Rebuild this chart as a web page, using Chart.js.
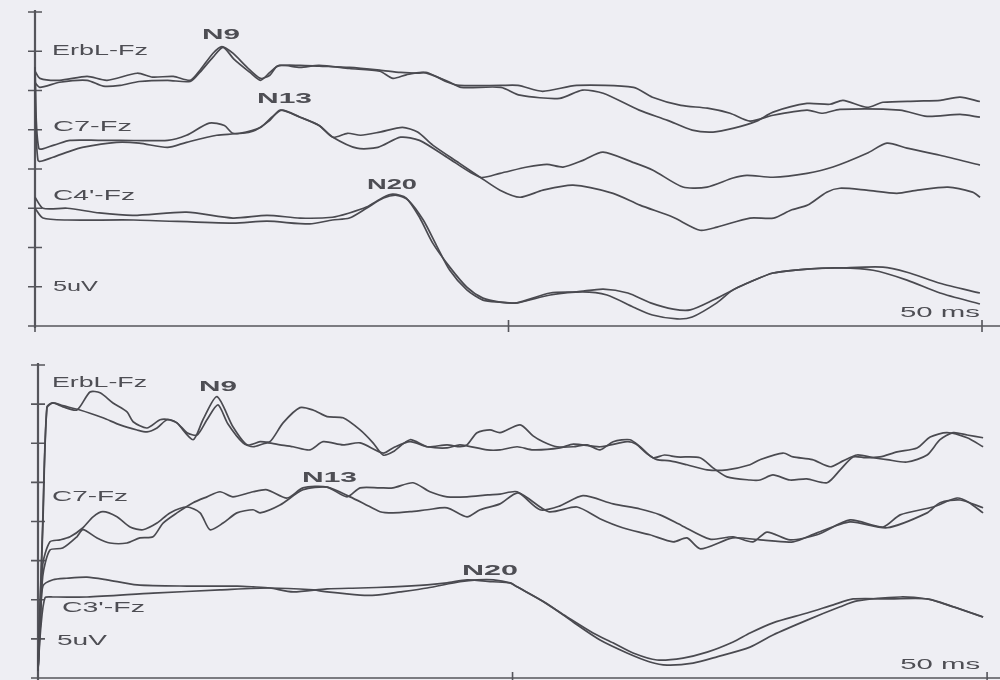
<!DOCTYPE html>
<html>
<head>
<meta charset="utf-8">
<title>Somatosensory evoked potentials</title>
<script src="https://cdn.jsdelivr.net/npm/chart.js@4/dist/chart.umd.min.js"></script>
<style>
  html, body { margin: 0; padding: 0; background: #eeeef3; }
  #sheet { position: relative; width: 1000px; height: 680px; overflow: hidden; background: #eeeef3; }
  #sheet canvas { position: absolute; left: 0; }
  #upper { top: 0; }
  #lower { top: 340px; }
</style>
</head>
<body>
<div id="sheet">
  <canvas id="upper" width="1000" height="340"></canvas>
  <canvas id="lower" width="1000" height="340"></canvas>
</div>
<script>
// ---- scale marks and texts ----
const timeTicksMs = [0, 25, 50];
const ampDivisions = [0, 1, 2, 3, 4, 5, 6, 7, 8];
const upperChannels = ['ErbL-Fz', 'C7-Fz', "C4'-Fz"];
const lowerChannels = ['ErbL-Fz', 'C7-Fz', "C3'-Fz"];
const peakNames = ['N9', 'N13', 'N20'];
const calibrationLabel = '5uV';
const sweepLabel = '50 ms';

// ---- traces: [time in ms, level in vertical divisions] ----
// upper block, two superimposed runs per derivation
const upperErbA = [[0,6.49],[0.26,6.31],[1.3,6.26],[2.75,6.36],[3.8,6.26],[5.4,6.44],[6.2,6.34],[7.3,6.36],[8.2,6.26],[8.7,6.51],[9.4,6.95],[9.87,7.12],[10.45,6.95],[11.2,6.59],[11.9,6.31],[12.4,6.39],[12.8,6.62],[14.0,6.64],[15.0,6.62],[16.6,6.59],[18.2,6.52],[19.3,6.46],[20.2,6.44],[20.7,6.46],[21.8,6.21],[22.4,6.13],[24.6,6.13],[25.5,6.13],[26.8,5.98],[28.6,6.13],[31.6,6.08],[32.6,5.83],[34.1,5.62],[35.5,5.55],[36.7,5.42],[37.75,5.22],[38.97,5.37],[40.76,5.50],[41.6,5.42],[42.5,5.52],[45.67,5.50],[47.1,5.34],[48.84,5.39],[49.89,5.32]];
const upperErbB = [[0,6.2],[0.26,6.08],[1.3,6.21],[2.75,6.26],[3.6,6.11],[4.5,6.13],[5.5,6.23],[7.0,6.26],[8.2,6.23],[8.7,6.46],[9.4,6.85],[9.93,7.10],[10.5,6.80],[11.35,6.46],[11.9,6.26],[12.4,6.46],[12.9,6.64],[14.0,6.59],[15.0,6.64],[16.6,6.56],[18.2,6.49],[18.9,6.31],[19.6,6.40],[20.5,6.46],[21.9,6.21],[22.5,6.08],[24.6,6.08],[25.6,5.88],[27.7,5.80],[28.9,6.01],[30.0,5.93],[31.9,5.50],[33.4,5.24],[34.7,4.99],[35.8,4.94],[36.9,5.04],[38.1,5.22],[38.97,5.45],[40.76,5.67],[41.97,5.65],[42.66,5.75],[43.93,5.57],[44.77,5.70],[46.57,5.73],[47.8,5.75],[48.84,5.83],[49.89,5.72]];
const upperC7A = [[0,6.6],[0.2,4.53],[1.0,4.61],[1.85,4.73],[3.4,4.73],[4.5,4.73],[7.0,4.73],[8.0,4.86],[9.2,5.17],[10.0,5.11],[10.45,4.91],[11.5,4.96],[12.4,5.24],[12.94,5.50],[14.0,5.32],[15.0,5.11],[15.73,4.81],[16.5,4.91],[17.2,4.86],[18.2,4.94],[19.4,5.06],[20.2,4.94],[21.0,4.61],[22.4,4.15],[23.5,3.79],[24.55,3.46],[25.61,3.28],[26.82,3.46],[28.41,3.59],[30.52,3.38],[31.94,3.08],[33.69,2.77],[35.11,2.44],[36.01,2.52],[37.75,2.75],[39.0,2.75],[39.9,2.95],[40.8,3.08],[41.8,3.41],[42.5,3.51],[43.9,3.46],[45.5,3.38],[46.6,3.46],[48.2,3.54],[49.5,3.41],[49.9,3.28]];
const upperC7B = [[0,6.4],[0.16,4.22],[0.95,4.30],[1.7,4.43],[2.5,4.55],[4.3,4.68],[5.5,4.66],[7.0,4.55],[8.0,4.68],[9.6,4.86],[10.8,4.91],[11.9,5.06],[12.5,5.32],[13.04,5.50],[14.0,5.32],[15.0,5.11],[15.73,4.81],[17.0,4.53],[18.1,4.55],[19.3,4.81],[20.3,4.73],[21.75,4.30],[23.5,3.79],[24.55,3.89],[25.98,4.05],[27.03,4.12],[27.88,4.05],[28.93,4.22],[29.99,4.43],[31.57,4.17],[32.63,3.97],[34.21,3.54],[35.48,3.54],[36.85,3.77],[37.59,3.84],[38.97,3.79],[40.76,3.89],[42.13,4.05],[43.93,4.40],[44.98,4.66],[46.04,4.53],[47.78,4.35],[49.89,4.10]];
const upperC4A = [[0,3.28],[0.42,3.0],[1.7,3.0],[3.4,2.88],[5.2,2.82],[8.0,2.90],[10.45,2.75],[12.25,2.82],[14.0,2.75],[15.7,2.77],[16.6,2.88],[17.5,3.03],[18.4,3.28],[18.9,3.36],[19.6,3.26],[20.3,2.77],[21.0,2.11],[21.9,1.50],[22.8,0.99],[23.65,0.71],[24.55,0.61],[25.45,0.59],[27.2,0.84],[28.6,0.87],[30.0,0.94],[31.3,0.84],[32.5,0.59],[33.7,0.43],[34.6,0.41],[35.8,0.66],[36.85,0.92],[37.75,1.12],[38.97,1.35],[40.76,1.45],[42.5,1.48],[44.25,1.42],[46.04,1.17],[47.78,0.84],[49.89,0.56]];
const upperC4B = [[0,3.0],[0.42,2.75],[1.7,2.70],[5.2,2.70],[10.45,2.62],[12.25,2.67],[14.5,2.60],[15.7,2.70],[16.6,2.75],[17.5,3.0],[18.4,3.26],[19.1,3.33],[19.7,3.21],[20.5,2.70],[21.2,2.05],[21.9,1.42],[22.8,0.92],[23.65,0.66],[24.55,0.61],[25.45,0.59],[27.2,0.79],[28.9,0.87],[30.2,0.79],[31.6,0.48],[32.6,0.28],[33.9,0.18],[34.7,0.23],[36.0,0.59],[36.85,0.92],[37.75,1.12],[38.97,1.35],[40.76,1.45],[42.5,1.48],[44.77,1.50],[46.04,1.37],[47.78,1.09],[49.89,0.84]];

// lower block
const lowerErbA = [[0,0.2],[0.25,4.0],[0.47,6.93],[0.79,7.03],[1.32,6.93],[2.05,6.85],[2.74,7.31],[3.27,7.29],[3.95,7.03],[4.69,6.80],[5.01,6.55],[5.74,6.39],[6.43,6.60],[6.95,6.60],[7.32,6.52],[8.17,6.09],[8.69,6.60],[9.43,7.19],[10.27,6.42],[11.01,5.96],[11.7,6.04],[12.22,6.04],[12.91,6.52],[13.8,6.91],[14.49,6.85],[15.23,6.68],[16.07,6.65],[16.97,6.34],[17.65,6.01],[18.18,5.70],[18.7,5.78],[19.6,6.09],[20.5,5.91],[21.55,5.96],[22.23,5.91],[22.6,5.96],[23.13,6.27],[23.81,6.34],[24.34,6.27],[25.4,6.47],[26.08,6.19],[26.61,6.04],[27.34,5.91],[28.2,5.91],[28.92,5.96],[29.61,5.83],[30.3,6.04],[31.19,6.09],[31.72,5.91],[32.4,5.63],[33.0,5.70],[33.67,5.65],[34.88,5.63],[35.56,5.37],[36.3,5.14],[37.51,5.06],[38.04,5.06],[38.72,5.19],[39.62,5.06],[40.5,5.09],[41.57,4.99],[42.26,5.32],[42.94,5.65],[43.6,5.63],[44.36,5.65],[45.26,5.78],[46.31,5.88],[47.0,6.16],[47.89,6.27],[48.95,6.14],[49.79,5.91]];
const lowerErbB = [[0,0.2],[0.25,3.8],[0.47,6.90],[0.79,7.03],[1.3,6.96],[2.21,6.85],[3.42,6.65],[4.32,6.47],[5.22,6.34],[5.74,6.29],[6.27,6.39],[6.80,6.60],[7.32,6.52],[7.85,6.27],[8.38,6.21],[8.9,6.60],[9.48,6.98],[10.0,6.50],[10.8,6.01],[11.33,5.91],[12.07,6.01],[12.75,5.96],[13.44,5.91],[14.33,5.83],[15.02,6.04],[16.07,5.96],[16.97,6.01],[18.18,5.75],[18.7,5.88],[19.6,6.04],[20.5,5.91],[21.55,5.88],[22.23,5.96],[23.66,5.83],[24.34,5.83],[25.24,5.91],[26.08,5.83],[27.5,5.88],[28.2,5.98],[29.61,5.91],[31.03,6.04],[31.5,5.98],[32.09,5.73],[32.61,5.58],[33.3,5.55],[34.19,5.45],[35.25,5.32],[36.3,5.32],[37.51,5.45],[38.04,5.58],[39.25,5.75],[39.78,5.65],[40.8,5.58],[41.73,5.40],[42.41,5.55],[43.15,5.70],[44.0,5.63],[44.73,5.58],[45.78,5.52],[46.84,5.70],[47.52,6.09],[48.21,6.27],[48.95,6.21],[49.79,6.14]];
const lowerC7A = [[0,0.2],[0.25,2.9],[0.63,3.48],[1.16,3.53],[1.69,3.61],[2.37,3.84],[2.9,4.12],[3.42,4.25],[4.16,4.12],[4.85,3.86],[5.53,3.79],[6.27,3.96],[6.95,4.22],[7.85,4.37],[8.54,4.22],[9.06,3.79],[9.75,3.96],[10.48,4.22],[11.33,4.30],[11.7,4.22],[12.75,4.42],[13.96,4.81],[15.23,4.88],[16.44,4.63],[17.2,4.45],[18.02,4.25],[18.7,4.22],[19.6,4.25],[20.5,4.30],[21.55,4.35],[22.6,4.12],[23.29,4.30],[24.34,4.45],[25.3,4.73],[26.9,4.25],[28.4,4.37],[29.6,4.07],[30.8,3.84],[32.24,3.66],[33.46,3.48],[34.19,3.58],[34.9,3.30],[36.6,3.58],[38.04,3.53],[39.78,3.48],[41.04,3.71],[42.78,3.99],[44.73,3.84],[46.84,4.22],[47.52,4.48],[48.58,4.55],[49.79,4.35]];
const lowerC7B = [[0,0.2],[0.25,2.6],[0.63,3.27],[1.3,3.32],[2.05,3.61],[2.37,3.79],[3.11,3.58],[3.79,3.45],[4.69,3.45],[5.37,3.58],[6.06,3.61],[6.59,3.96],[7.32,4.22],[8.17,4.48],[8.9,4.63],[9.59,4.76],[10.27,4.63],[11.33,4.76],[12.07,4.81],[13.12,4.60],[13.96,4.86],[15.23,4.88],[16.28,4.63],[16.97,4.86],[18.0,4.86],[18.7,4.86],[19.76,4.99],[20.65,4.76],[21.55,4.63],[22.6,4.63],[23.7,4.68],[24.34,4.70],[25.24,4.76],[26.45,4.30],[27.5,4.40],[28.71,4.66],[30.3,4.45],[31.72,4.32],[32.77,4.17],[33.9,3.90],[35.4,3.55],[36.62,3.61],[37.67,3.48],[38.41,3.73],[39.62,3.53],[41.04,3.66],[42.78,4.04],[44.52,3.86],[45.42,4.17],[47.15,4.37],[48.42,4.60],[49.0,4.50],[49.79,4.22]];
const lowerC3A = [[0,0.2],[0.15,1.6],[0.26,2.35],[0.79,2.51],[1.5,2.55],[2.58,2.58],[3.64,2.51],[5.22,2.38],[7.85,2.35],[10.5,2.35],[11.33,2.33],[12.22,2.30],[13.44,2.20],[15.23,2.28],[16.97,2.30],[18.7,2.33],[20.5,2.38],[21.55,2.43],[22.6,2.51],[23.97,2.46],[24.87,2.43],[25.24,2.33],[26.45,2.0],[27.87,1.56],[29.24,1.15],[30.29,0.90],[31.35,0.64],[32.61,0.46],[33.98,0.51],[35.25,0.66],[36.62,0.92],[37.51,1.15],[38.72,1.41],[40.52,1.66],[41.9,1.87],[42.94,2.02],[44.9,2.02],[46.84,2.02],[48.21,1.82],[49.79,1.56]];
const lowerC3B = [[0,0.2],[0.15,1.3],[0.37,2.05],[0.79,2.07],[2.58,2.07],[6.06,2.17],[9.59,2.25],[12.22,2.30],[14.5,2.25],[15.23,2.20],[16.97,2.12],[17.8,2.12],[19.07,2.20],[20.5,2.30],[22.23,2.46],[23.13,2.51],[24.0,2.51],[24.87,2.43],[25.24,2.33],[26.82,1.90],[28.19,1.43],[29.61,0.97],[31.03,0.64],[32.24,0.41],[33.14,0.33],[34.51,0.38],[35.77,0.54],[37.51,0.79],[38.72,1.10],[40.52,1.48],[42.26,1.82],[43.15,1.97],[45.42,2.07],[46.84,2.02],[47.6,1.92],[49.79,1.56]];

// ---- drawing ----
const INK = '#4a4a50';
const AXIS_INK = '#55555b';
const TEXT_INK = '#4e4e54';
const FONT_FAMILY = '"Liberation Sans", Arial, Helvetica, sans-serif';

// axis lines and tick marks, drawn from the chart's own scales
const sweepFrame = {
  id: 'sweepFrame',
  beforeDatasetsDraw(chart) {
    const { ctx, scales: { x, y } } = chart;
    const x0 = x.getPixelForValue(0);
    const y0 = y.getPixelForValue(0);
    const yTop = y.getPixelForValue(ampDivisions[ampDivisions.length - 1]);
    ctx.save();
    ctx.strokeStyle = AXIS_INK;
    ctx.lineCap = 'butt';
    ctx.lineWidth = 2.2;
    ctx.beginPath();
    ctx.moveTo(x0, yTop - 2);
    ctx.lineTo(x0, y0 + 2);
    ctx.stroke();
    ctx.lineWidth = 1.6;
    ctx.beginPath();
    ctx.moveTo(x0, y0);
    ctx.lineTo(chart.width, y0);
    ampDivisions.forEach(v => {
      const py = y.getPixelForValue(v);
      ctx.moveTo(x0 - 7, py);
      ctx.lineTo(x0 + 7, py);
    });
    timeTicksMs.forEach(t => {
      const px = x.getPixelForValue(t);
      ctx.moveTo(px, y0 - 6);
      ctx.lineTo(px, y0 + 6);
    });
    ctx.stroke();
    ctx.restore();
  }
};

// channel names, peak names and calibration text, placed in scale units
const sweepText = {
  id: 'sweepText',
  afterDatasetsDraw(chart, args, opts) {
    const { ctx, scales: { x, y } } = chart;
    ctx.save();
    ctx.fillStyle = TEXT_INK;
    ctx.textBaseline = 'alphabetic';
    ctx.textAlign = 'left';
    (opts.items || []).forEach(item => {
      const size = item.bold ? 14 : 15;
      ctx.font = (item.bold ? 'bold ' : '') + size + 'px ' + FONT_FAMILY;
      const natural = ctx.measureText(item.text).width;
      const px = x.getPixelForValue(item.t);
      const py = y.getPixelForValue(item.v) + 0.36 * size;
      ctx.save();
      ctx.translate(px, py);
      ctx.scale(item.w / natural, 1);
      ctx.fillText(item.text, 0, 0);
      ctx.restore();
    });
    ctx.restore();
  }
};

function drawSweeps(canvasId, traces, frame, texts) {
  new Chart(document.getElementById(canvasId), {
    type: 'line',
    data: {
      datasets: traces.map(trace => ({
        data: trace.map(([t, v]) => ({ x: t, y: v })),
        borderColor: INK,
        borderWidth: 1.7,
        pointRadius: 0,
        tension: 0.25,
        fill: false,
        clip: false
      }))
    },
    options: {
      responsive: false,
      animation: false,
      events: [],
      layout: { padding: frame.padding },
      scales: {
        x: { type: 'linear', display: false, min: 0, max: frame.xMax },
        y: { type: 'linear', display: false, min: 0, max: 8 }
      },
      plugins: {
        legend: { display: false },
        tooltip: { enabled: false },
        sweepText: { items: texts }
      }
    },
    plugins: [sweepFrame, sweepText]
  });
}

drawSweeps('upper',
  [upperErbA, upperErbB, upperC7A, upperC7B, upperC4A, upperC4B],
  { padding: { left: 35, top: 12, right: 0, bottom: 14 }, xMax: 50.95 },
  [
    { text: upperChannels[0], t: 0.9, v: 7.05, w: 96 },
    { text: upperChannels[1], t: 0.95, v: 5.11, w: 79 },
    { text: upperChannels[2], t: 0.95, v: 3.36, w: 82 },
    { text: calibrationLabel, t: 0.95, v: 1.03, w: 45 },
    { text: peakNames[0], t: 8.82, v: 7.43, w: 38, bold: true },
    { text: peakNames[1], t: 11.72, v: 5.80, w: 55, bold: true },
    { text: peakNames[2], t: 17.53, v: 3.61, w: 50, bold: true },
    { text: sweepLabel, t: 45.67, v: 0.36, w: 80 }
  ]);

drawSweeps('lower',
  [lowerErbA, lowerErbB, lowerC7A, lowerC7B, lowerC3A, lowerC3B],
  { padding: { left: 38, top: 25, right: 0, bottom: 2 }, xMax: 50.68 },
  [
    { text: lowerChannels[0], t: 0.74, v: 7.57, w: 95 },
    { text: lowerChannels[1], t: 0.74, v: 4.65, w: 76 },
    { text: lowerChannels[2], t: 1.26, v: 1.82, w: 83 },
    { text: calibrationLabel, t: 1.0, v: 0.97, w: 50 },
    { text: peakNames[0], t: 8.48, v: 7.47, w: 38, bold: true },
    { text: peakNames[1], t: 13.91, v: 5.14, w: 55, bold: true },
    { text: peakNames[2], t: 22.34, v: 2.76, w: 56, bold: true },
    { text: sweepLabel, t: 45.42, v: 0.38, w: 80 }
  ]);
</script>
</body>
</html>
